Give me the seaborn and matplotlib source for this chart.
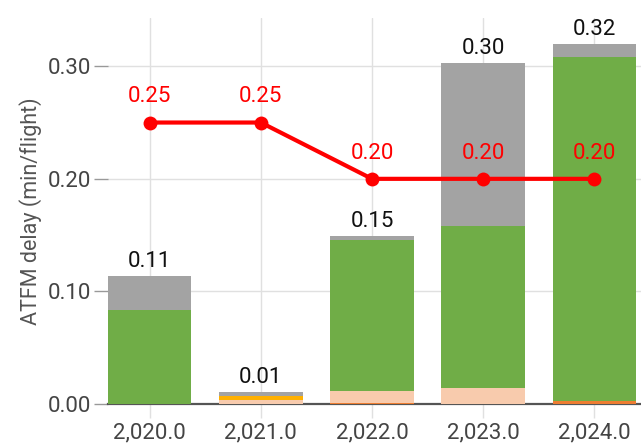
import numpy as np
import pandas as pd
import matplotlib
matplotlib.use('Agg')
import matplotlib.pyplot as plt
import seaborn as sns
from matplotlib.ticker import FuncFormatter

# Chart data
years = [2020, 2021, 2022, 2023, 2024]
orange = [0.000, 0.000, 0.001, 0.000, 0.003]
peach = [0.000, 0.0035, 0.0103, 0.0142, 0.000]
amber = [0.000, 0.0037, 0.000, 0.000, 0.000]
green = [0.0834, 0.000, 0.1342, 0.1438, 0.305]
grey = [0.030, 0.0033, 0.0035, 0.1445, 0.0115]
target = [0.25, 0.25, 0.20, 0.20, 0.20]

segments = [
    (orange, '#ED7D31'),
    (peach, '#F8CBAD'),
    (amber, '#FFB000'),
    (green, '#70AD47'),
    (grey, '#A3A3A3'),
]

df = pd.DataFrame({'year': years, 'target': target})

sns.set_theme(style='whitegrid')
plt.rcParams['font.family'] = ['Roboto', 'DejaVu Sans']

fig = plt.figure(figsize=(6.41, 4.45), dpi=100)
ax = fig.add_axes([0.1685, 0.092, 0.8315, 0.868])

bottom = np.zeros(len(years))
for vals, col in segments:
    ax.bar(years, vals, bottom=bottom, width=0.75, color=col, linewidth=0, zorder=2)
    bottom = bottom + np.array(vals)

# totals above bars
for x, tot in zip(years, bottom):
    ax.annotate(f'{tot:.2f}', (x, tot), xytext=(0, 3), textcoords='offset points',
                ha='center', va='bottom', fontsize=16, color='#111111')

sns.lineplot(data=df, x='year', y='target', ax=ax, color='#FF0000', linewidth=3,
             marker='o', markersize=10, markeredgewidth=0, zorder=4)
for x, t in zip(years, target):
    ax.annotate(f'{t:.2f}', (x, t), xytext=(0, 11), textcoords='offset points',
                ha='center', va='bottom', fontsize=16, color='#FF0000')

ax.set_xlim(2019.625, 2024.42)
ax.set_ylim(0, 0.343)
ax.set_xticks(years)
ax.set_yticks([0, 0.1, 0.2, 0.3])
ax.xaxis.set_major_formatter(FuncFormatter(lambda v, p: f'{v:,.1f}'))
ax.yaxis.set_major_formatter(FuncFormatter(lambda v, p: f'{v:.2f}'))
ax.set_xlabel('')
ax.set_ylabel('ATFM delay (min/flight)', fontsize=15.5, color='#555555', labelpad=4)

ax.grid(True, color='#E0E0E0', linewidth=1)
ax.set_axisbelow(True)
for s in ['top', 'right', 'left']:
    ax.spines[s].set_visible(False)
ax.spines['bottom'].set_color('#555555')
ax.spines['bottom'].set_linewidth(1.6)
ax.spines['bottom'].set_zorder(1)

ax.tick_params(axis='x', which='major', bottom=True, length=10, width=1,
               color='#E0E0E0', labelsize=16, labelcolor='#444444', pad=3)
ax.tick_params(axis='y', which='major', left=True, length=10, width=1,
               color='#999999', labelsize=16, labelcolor='#444444', pad=2)

fig.savefig('out.png', dpi=100)
